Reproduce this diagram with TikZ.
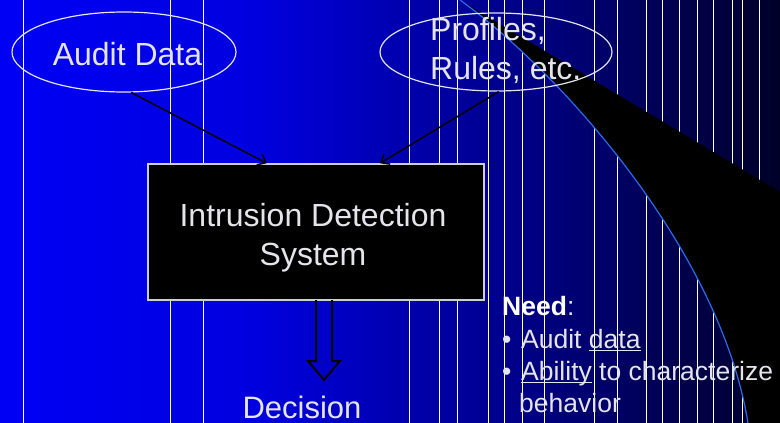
\documentclass[tikz,border=0pt]{standalone}
\usepackage{fontspec}
\setmainfont{Liberation Sans}
\usetikzlibrary{shapes.geometric,arrows.meta,calc}

\definecolor{bgA}{RGB}{0,0,245}
\definecolor{bgB}{RGB}{0,0,222}
\definecolor{bgC}{RGB}{0,0,135}
\definecolor{bgD}{RGB}{0,0,40}
\definecolor{txt}{RGB}{228,228,234}
\definecolor{boxedge}{RGB}{205,205,210}
\definecolor{curveedge}{RGB}{45,105,235}

% left-to-right slide background; the path maps onto 25bp..75bp
\pgfdeclarehorizontalshading{bgblue}{100bp}{color(0bp)=(bgA); color(25bp)=(bgA); color(41.67bp)=(bgB); color(58.33bp)=(bgC); color(75bp)=(bgD); color(100bp)=(bgD)}

% underline at a fixed depth below the baseline
\newcommand\ulword[1]{\setbox0=\hbox{#1}\rlap{\rule[-3pt]{\wd0}{1.1pt}}\box0\relax}

\tikzset{
  vline/.style={white, line width=1pt},
  ell/.style={ellipse, draw=txt, line width=1.2pt, minimum width=224pt,
              minimum height=80pt, inner sep=0pt},
  lbl/.style={text=txt, inner sep=0pt, font=\fontsize{32}{39}\selectfont},
  small/.style={text=txt, inner sep=0pt, font=\fontsize{26.5}{32}\selectfont},
  idsbox/.style={draw=boxedge, fill=black, line width=1.5pt,
                 minimum width=336pt, minimum height=136pt, inner sep=0pt},
  feed/.style={-{Straight Barb[length=7pt,width=12pt]}, black, line width=1.5pt},
  blockarrow/.style={black, line width=2pt, line join=miter},
}

\begin{document}
\begin{tikzpicture}[x=1pt,y=-1pt]
\useasboundingbox (0,0) rectangle (780,423);

% background
\fill[shading=bgblue] (0,0) rectangle (780,423);

% vertical stripes
\foreach \x in {23,170,203,409,439,457,488,504,522,544,594,617,646,662,679,697,713,732,742,759}
  \draw[vline] (\x,0) -- (\x,423);

% black swoosh with its blue rim
\fill[black] (460,0) -- (780,192) -- (780,423) -- (748,423)
  .. controls (720,250) and (560,72) .. (460,0) -- cycle;
\draw[curveedge, line width=1.2pt] (460,0) .. controls (560,72) and (720,250) .. (748,423);

% inputs
\node[ell] (audit) at (124,52) {};
\node[ell, minimum width=232pt, minimum height=78pt] (prof) at (496,52) {};
\node[lbl, anchor=base] (auditT) at (127.5,65) {Audit Data};
\node[lbl, anchor=base west] (profA) at (430,41) {Profiles,};
\node[lbl, anchor=base west] (profB) at (430,79) {Rules, etc.};

% detection system
\node[idsbox] (ids) at (316,232) {};
\node[lbl, align=center] (idsT) at (313,237.5) {Intrusion Detection\\System};

% input connectors
\draw[feed] (audit.-80) -- ($(ids.north west)!0.354!(ids.north east)$);
\draw[feed] (prof.-86) -- ($(ids.north west)!0.69!(ids.north east)$);

% output
\node[lbl, anchor=base, font=\fontsize{31}{39}\selectfont] (dec) at (302,418) {Decision};
\draw[blockarrow] (316,300) -- (316,361) -- (308,361) -- (324,380)
  -- (340,361) -- (332,361) -- (332,300);

% requirements
\node[small, anchor=base west, text=white] (need) at (502,315) {\textbf{Need}\textcolor{txt}{:}};
\node[small, anchor=base west] (b1) at (502,348) {\textbullet};
\node[small, anchor=base west] (b2) at (502,380) {\textbullet};
\node[small, anchor=base west] (needA) at (521,348) {Audit \ulword{data}};
\node[small, anchor=base west] (needB) at (521,380) {\ulword{Ability} to characterize};
\node[small, anchor=base west] (needC) at (519,412) {behavior};
\end{tikzpicture}
\end{document}
